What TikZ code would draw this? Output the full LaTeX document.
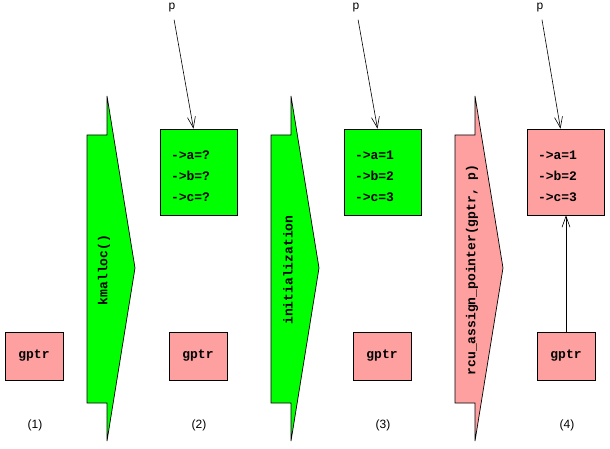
\documentclass[tikz,border=0pt]{standalone}
\usepackage{fontspec}
\setmainfont{Liberation Sans}
\setmonofont{Liberation Mono}
\usetikzlibrary{arrows.meta}
\definecolor{pinkfill}{RGB}{255,160,160}
\definecolor{greenfill}{RGB}{0,255,0}

\begin{document}
\begin{tikzpicture}
[x=1pt, y=-1pt, inner sep=0pt, line width=0.7pt,
gptrbox/.style={draw, fill=pinkfill, minimum width=58pt, minimum height=48pt,
  font=\fontsize{13}{15}\selectfont\ttfamily\bfseries},
objbox/.style={draw, minimum width=77pt, minimum height=86pt},
objtext/.style={text width=57pt, align=left, font=\fontsize{13}{21}\selectfont\ttfamily\bfseries},
stepshape/.style={draw, line join=miter},
steplabel/.style={rotate=90, font=\fontsize{13}{15}\selectfont\ttfamily\bfseries},
tag/.style={font=\fontsize{12}{14}\selectfont},
ptr/.style={-{Straight Barb[length=11pt,width=8pt]}, line width=0.6pt, shorten <=7pt}]
\useasboundingbox (0,0) rectangle (610,449);

% stage (1)
\node[gptrbox] (gptr1) at (34,356) {gptr};
\node[tag] (lab1) at (35,425) {(1)};

% kmalloc()
\draw[stepshape, fill=greenfill] (87,135) -- (107,135) -- (107,96) -- (135,268)
  -- (107,441) -- (107,403) -- (87,403) -- cycle;
\node[steplabel] (step1) at (104,270) {kmalloc()};

% stage (2)
\node[tag] (p2) at (172,8) {p};
\node[objbox, fill=greenfill] (obj2) at (198.5,172) {};
\node[objtext] (vals2) at ([xshift=1pt,yshift=-4pt]obj2.center) {->a=?\\->b=?\\->c=?};
\node[gptrbox] (gptr2) at (198,356) {gptr};
\node[tag] (lab2) at (199,425) {(2)};
\draw[ptr] (p2) -- ([xshift=-5pt]obj2.north);

% initialization
\draw[stepshape, fill=greenfill] (271,135) -- (291,135) -- (291,96) -- (319,268)
  -- (291,441) -- (291,403) -- (271,403) -- cycle;
\node[steplabel] (step2) at (288,270) {initialization};

% stage (3)
\node[tag] (p3) at (356,8) {p};
\node[objbox, fill=greenfill] (obj3) at (382.5,172) {};
\node[objtext] (vals3) at ([xshift=1pt,yshift=-4pt]obj3.center) {->a=1\\->b=2\\->c=3};
\node[gptrbox] (gptr3) at (382,356) {gptr};
\node[tag] (lab3) at (383,425) {(3)};
\draw[ptr] (p3) -- ([xshift=-5pt]obj3.north);

% rcu_assign_pointer()
\draw[stepshape, fill=pinkfill] (455,135) -- (475,135) -- (475,96) -- (503,268)
  -- (475,441) -- (475,403) -- (455,403) -- cycle;
\node[steplabel] (step3) at (472,270) {rcu\_assign\_pointer(gptr, p)};

% stage (4)
\node[tag] (p4) at (540,8) {p};
\node[objbox, fill=pinkfill] (obj4) at (565.5,172) {};
\node[objtext] (vals4) at ([xshift=1pt,yshift=-4pt]obj4.center) {->a=1\\->b=2\\->c=3};
\node[gptrbox] (gptr4) at (566,356) {gptr};
\node[tag] (lab4) at (567,425) {(4)};
\draw[ptr] (p4) -- ([xshift=-5pt]obj4.north);
\draw[ptr, shorten <=0pt] (gptr4) -- (gptr4 |- obj4.south);
\end{tikzpicture}
\end{document}
